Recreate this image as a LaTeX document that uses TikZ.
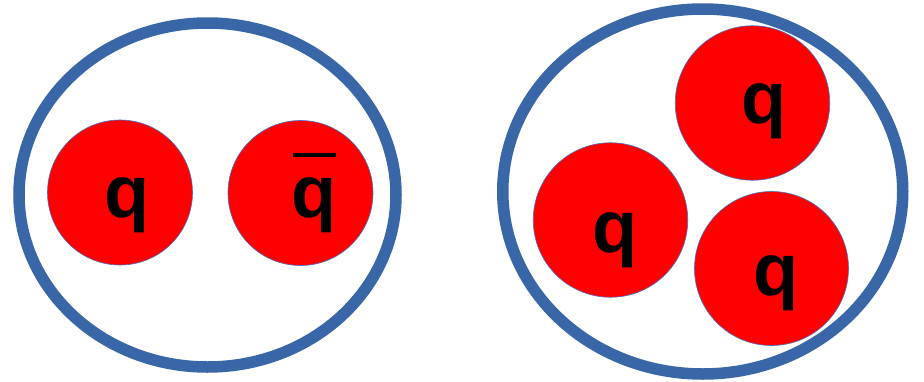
\documentclass[tikz,border=0pt]{standalone}
\usepackage{fontspec}
\setmainfont{Liberation Sans}
\usetikzlibrary{shapes.geometric}
\definecolor{hadron}{HTML}{3866A6}
\definecolor{quarkedge}{HTML}{4472C4}
\begin{document}
\begin{tikzpicture}[x=1pt,y=-1pt,
  bag/.style={ellipse,draw=hadron,line width=11.5pt,inner sep=0pt,fill=white},
  quark/.style={circle,draw=quarkedge,line width=0.6pt,fill=red,inner sep=0pt},
  qlabel/.style={anchor=base,inner sep=0pt,font=\fontsize{74}{74}\selectfont\bfseries}]
\useasboundingbox (0,0) rectangle (924,381);
\fill[white] (0,0) rectangle (924,381);
% left hadron (meson)
\node[bag,minimum width=377pt,minimum height=344pt] (meson) at (207.5,195) {};
\node[quark,minimum size=145pt] (m1) at (120,192.5) {};
\node[quark,minimum size=145pt] (m2) at (300.5,193) {};
\node[qlabel] (lm1) at (127.5,217) {q};
\node[qlabel] (lm2) at (314,217) {q};
\draw[line width=4pt] (293,155) -- (336,155);
% right hadron (baryon)
\node[bag,minimum width=400pt,minimum height=365pt] (baryon) at (702.75,191.5) {};
\node[quark,minimum size=154.5pt] (b1) at (752.5,103) {};
\node[quark,minimum size=154.5pt] (b2) at (610.5,220) {};
\node[quark,minimum size=154pt] (b3) at (771.5,268.5) {};
\node[qlabel] (lb1) at (764.5,123) {q};
\node[qlabel] (lb2) at (615.5,252) {q};
\node[qlabel] (lb3) at (776.5,295) {q};
\end{tikzpicture}
\end{document}
